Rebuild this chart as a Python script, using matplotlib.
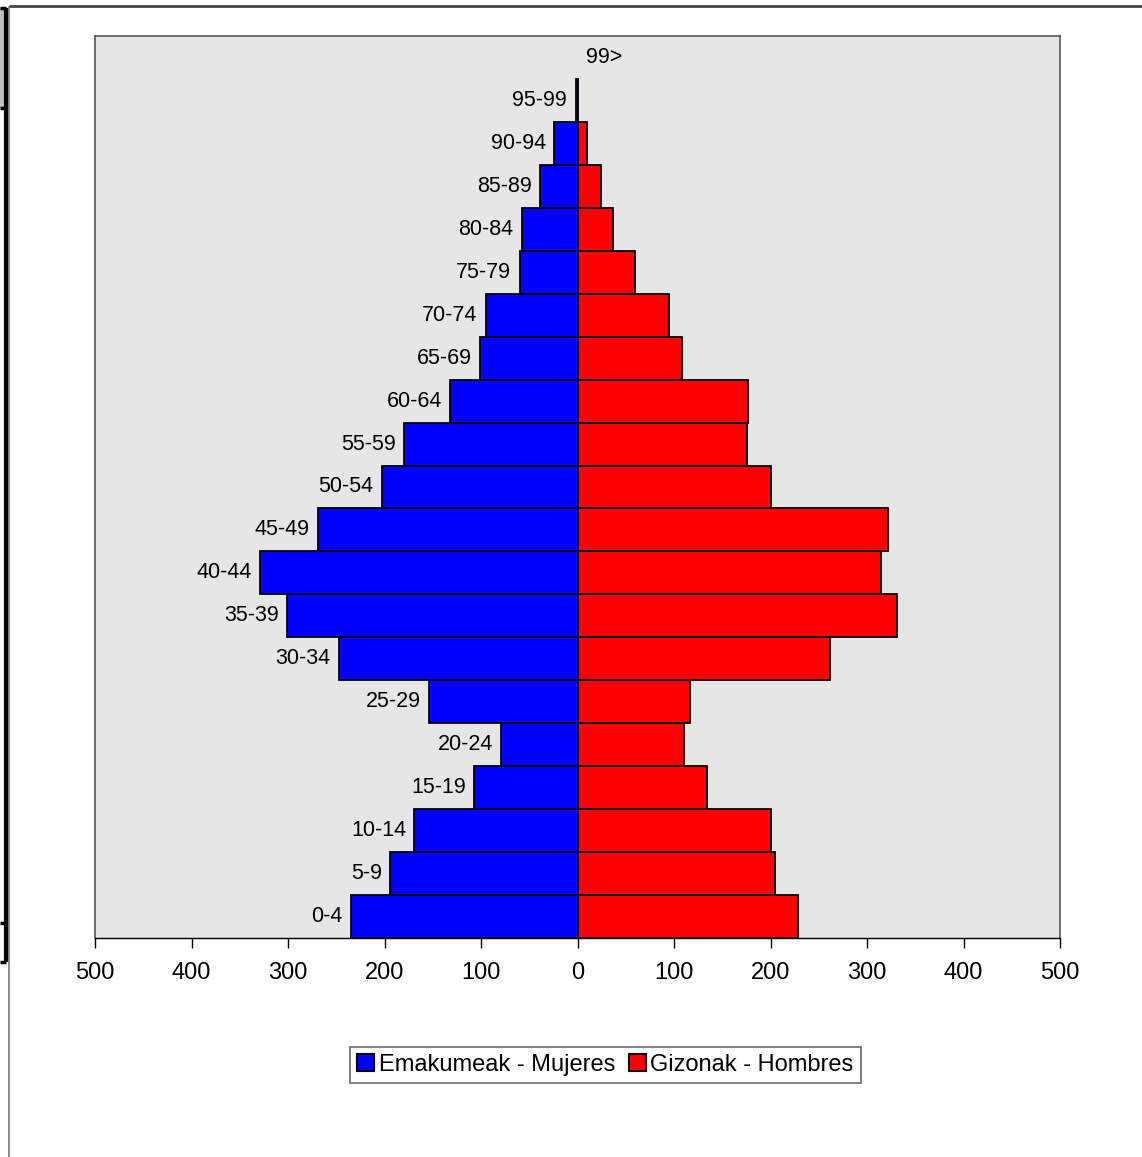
import matplotlib
matplotlib.use("Agg")
import matplotlib.pyplot as plt
from matplotlib.patches import Patch, Rectangle
from matplotlib.lines import Line2D

plt.rcParams['font.family'] = ['Liberation Sans', 'DejaVu Sans']

age_groups = ["0-4", "5-9", "10-14", "15-19", "20-24", "25-29", "30-34", "35-39",
              "40-44", "45-49", "50-54", "55-59", "60-64", "65-69", "70-74", "75-79",
              "80-84", "85-89", "90-94", "95-99", "99>"]
women = [235, 194, 169, 107, 79, 154, 247, 301, 329, 269, 203, 180, 132, 101, 95, 60,
         58, 39, 24, 2, 0]
men = [228, 205, 201, 134, 110, 117, 262, 331, 314, 322, 200, 176, 177, 108, 95, 60,
       37, 24, 10, 1, 0]
xticks = [-500, -400, -300, -200, -100, 0, 100, 200, 300, 400, 500]
women_label = "Emakumeak - Mujeres"
men_label = "Gizonak - Hombres"

W, H = 1142, 1157
fig = plt.figure(figsize=(W / 100, H / 100), dpi=100)
ax = fig.add_axes([95 / W, 1 - 938 / H, (1060 - 95) / W, (938 - 36) / H])
ax.set_facecolor('#e6e6e6')

y = list(range(len(age_groups)))
lw_w = [1.3 if v > 0 else 0 for v in women]
lw_m = [1.3 if v > 0 else 0 for v in men]
ax.barh(y, [-v for v in women], height=1.0, color='#0000ff', edgecolor='black', linewidth=lw_w)
ax.barh(y, men, height=1.0, color='#ff0000', edgecolor='black', linewidth=lw_m)

for yi, lab, w in zip(y, age_groups, women):
    if w > 0:
        ax.annotate(lab, xy=(-w, yi), xytext=(-6, 0), textcoords='offset points',
                    ha='right', va='center', fontsize=15.5)
    else:
        ax.annotate(lab, xy=(0, yi), xytext=(6, 0), textcoords='offset points',
                    ha='left', va='center', fontsize=15.5)

ax.set_xlim(-500, 500)
ax.set_ylim(-0.5, len(age_groups) - 0.5)
ax.set_xticks(xticks)
ax.set_xticklabels([str(abs(t)) for t in xticks], fontsize=17)
ax.set_yticks([])
ax.tick_params(axis='x', direction='out', length=7, width=1, pad=10, colors='black')
for s in ['top', 'left', 'right']:
    ax.spines[s].set_color('#555555')
    ax.spines[s].set_linewidth(1.2)
ax.spines['bottom'].set_color('black')
ax.spines['bottom'].set_linewidth(1)

handles = [Patch(facecolor='#0000ff', edgecolor='black', linewidth=1.5),
           Patch(facecolor='#ff0000', edgecolor='black', linewidth=1.5)]
leg = fig.legend(handles, [women_label, men_label], loc='center',
                 bbox_to_anchor=(605.5 / W, 1 - 1065 / H), ncol=2, fontsize=17,
                 frameon=True, fancybox=False, shadow=False, edgecolor='#444444',
                 handlelength=0.7, handleheight=0.7, handletextpad=0.2,
                 columnspacing=0.6, borderpad=0.3, borderaxespad=0)
leg.get_frame().set_linewidth(1.2)

# outer page frame fragments
def px_line(x0, y0, x1, y1, color, lw):
    fig.add_artist(Line2D([x0 / W, x1 / W], [1 - y0 / H, 1 - y1 / H],
                          transform=fig.transFigure, color=color, linewidth=lw,
                          solid_capstyle='butt'))

fig.add_artist(Rectangle((0, 1 - 108 / H), 6 / W, 100 / H, transform=fig.transFigure,
                         facecolor='#c0c0c0', edgecolor='none'))
px_line(8.5, 6, 1142, 6, '#444444', 2.0)
px_line(8.5, 6, 8.5, 1157, '#777777', 1.2)
px_line(6, 8, 6, 962, 'black', 3)
px_line(0, 8, 6, 8, 'black', 2.5)
px_line(0, 108, 6, 108, 'black', 2.5)
px_line(0, 923, 6, 923, 'black', 2.5)
px_line(0, 962, 6, 962, 'black', 2.5)

fig.savefig('out.png', dpi=100)
